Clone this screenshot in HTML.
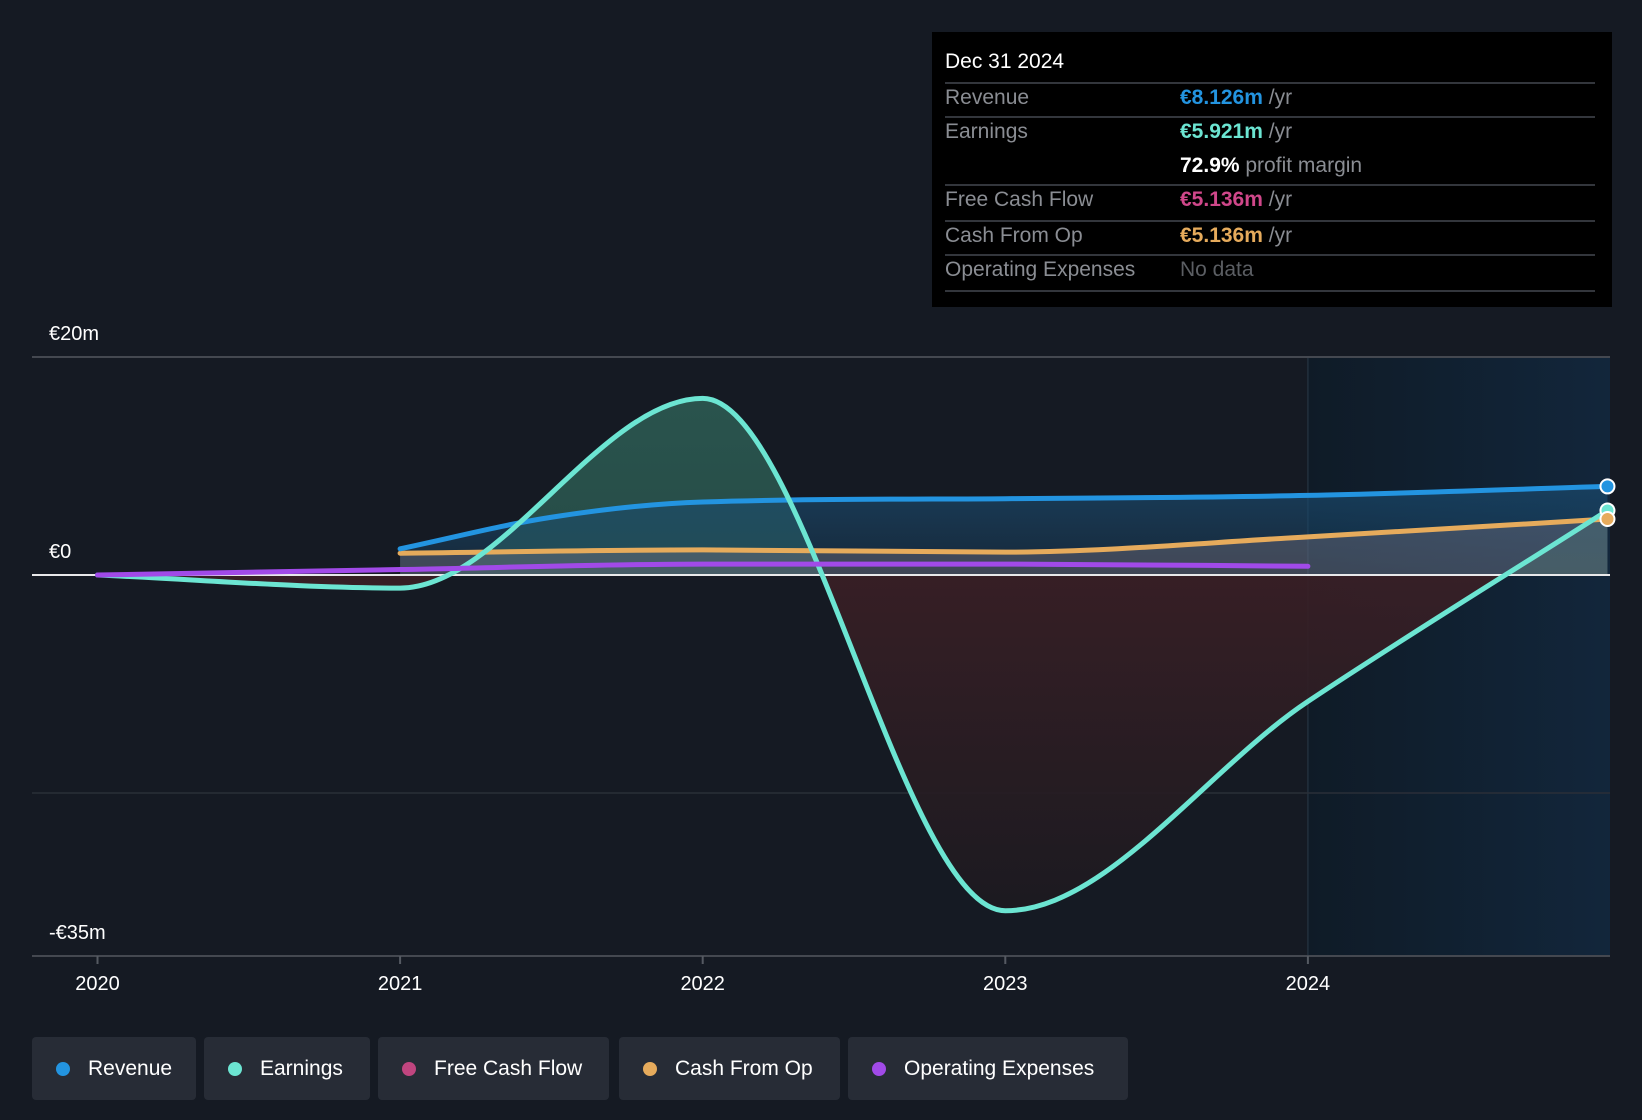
<!DOCTYPE html>
<html><head><meta charset="utf-8">
<style>
body{margin:0;width:1642px;height:1120px;background:#151a23;font-family:"Liberation Sans",sans-serif;overflow:hidden;position:relative}
#tip{position:absolute;left:932px;top:32px;width:680px;height:275px;background:#000;color:#8a8d93;font-size:21px}
#tip .t{position:absolute;left:13px;color:#fff}
#tip .v{position:absolute;left:248px}
#tip .v span{font-weight:bold}
#tip .s{position:absolute;left:13px;width:650px;height:2px;background:#33363c}
.leg{position:absolute;top:1037px;height:63px;background:#272c36;border-radius:4px;color:#fff;font-size:21px;line-height:63px;box-sizing:border-box;padding-left:56px}
.leg i{position:absolute;left:24px;top:25px;width:14px;height:14px;border-radius:50%}
</style></head><body>
<svg id="chart" width="1642" height="1120" style="position:absolute;left:0;top:0">
<defs>
<linearGradient id="fc" x1="0" x2="1" y1="0" y2="0"><stop offset="0" stop-color="#0f1b27"/><stop offset="1" stop-color="#12263b"/></linearGradient>
<linearGradient id="pg" x1="0" x2="0" y1="0" y2="1"><stop offset="0" stop-color="#2c5a52"/><stop offset="1" stop-color="#20403d"/></linearGradient>
<linearGradient id="ng" x1="0" x2="0" y1="0" y2="1"><stop offset="0" stop-color="#4a2228"/><stop offset="1" stop-color="#1c1a20"/></linearGradient>
<linearGradient id="rg" x1="0" x2="0" y1="0" y2="1"><stop offset="0" stop-color="#1a4a6e" stop-opacity="0.7"/><stop offset="1" stop-color="#1a4a6e" stop-opacity="0.3"/></linearGradient>
</defs>
<g id="g"></g>
</svg>
<div id="tip">
<div class="t" style="top:18px;color:#fff">Dec 31 2024</div>
<div class="s" style="top:50px"></div>
<div class="t" style="top:54px;color:#8a8d93">Revenue</div><div class="v" style="top:54px"><span style="color:#2394e0">€8.126m</span> /yr</div>
<div class="s" style="top:84px"></div>
<div class="t" style="top:88px;color:#8a8d93">Earnings</div><div class="v" style="top:88px"><span style="color:#6ce5d2">€5.921m</span> /yr</div>
<div class="v" style="top:122px"><span style="color:#fff">72.9%</span> profit margin</div>
<div class="s" style="top:152px"></div>
<div class="t" style="top:156px;color:#8a8d93">Free Cash Flow</div><div class="v" style="top:156px"><span style="color:#d0478a">€5.136m</span> /yr</div>
<div class="s" style="top:188px"></div>
<div class="t" style="top:192px;color:#8a8d93">Cash From Op</div><div class="v" style="top:192px"><span style="color:#e6ab5c">€5.136m</span> /yr</div>
<div class="s" style="top:222px"></div>
<div class="t" style="top:226px;color:#8a8d93">Operating Expenses</div><div class="v" style="top:226px;color:#5b5e63">No data</div>
<div class="s" style="top:258px"></div>
</div>
<div class="leg" style="left:32px;width:164px"><i style="background:#2394e0"></i>Revenue</div>
<div class="leg" style="left:204px;width:166px"><i style="background:#6ce5d2"></i>Earnings</div>
<div class="leg" style="left:378px;width:231px"><i style="background:#c0457f"></i>Free Cash Flow</div>
<div class="leg" style="left:619px;width:221px"><i style="background:#e6ab5c"></i>Cash From Op</div>
<div class="leg" style="left:848px;width:280px"><i style="background:#a14ae8"></i>Operating Expenses</div>
<script>
const revX=[2021,2021.5,2022,2023,2024,2024.99];
const revY=[2.4,5.3,6.7,7.0,7.3,8.126];
const earnX=[2020,2021,2022,2023,2024,2024.99];
const earnY=[0,-1.2,16.2,-30.8,-11.6,5.921];
const cfoX=[2021,2022,2023,2024,2024.99];
const cfoY=[2.0,2.3,2.1,3.5,5.136];
const opxX=[2020,2021,2022,2023,2024];
const opxY=[0,0.5,1.0,1.0,0.8];
const yTicks=[20,0,-35];
const yTickLabels=["€20m","€0","-€35m"];
const years=[2020,2021,2022,2023,2024];

const X=v=>97.5+(v-2020)*302.6;
const Y=v=>575-v*10.9;
const NS="http://www.w3.org/2000/svg";
const g=document.getElementById('g');
function mk(t,a,name){const e=document.createElementNS(NS,t);for(const k in a)e.setAttribute(k,a[k]);


g.appendChild(e);return e;}
function mono(xs,ys){const n=xs.length,px=xs.map(X),py=ys.map(Y);const d=[],m=[];
for(let i=0;i<n-1;i++)d.push((py[i+1]-py[i])/(px[i+1]-px[i]));
for(let i=0;i<n;i++){if(i==0)m.push(d[0]);else if(i==n-1)m.push(d[n-2]);else m.push(d[i-1]*d[i]<=0?0:(d[i-1]+d[i])/2);}
for(let i=0;i<n-1;i++){if(d[i]==0){m[i]=0;m[i+1]=0;continue;}const a=m[i]/d[i],b=m[i+1]/d[i],s=a*a+b*b;if(s>9){const t=3/Math.sqrt(s);m[i]=t*a*d[i];m[i+1]=t*b*d[i];}}
let p=`M${px[0]},${py[0]}`;
for(let i=0;i<n-1;i++){const h=(px[i+1]-px[i])/3;p+=`C${px[i]+h},${py[i]+m[i]*h} ${px[i+1]-h},${py[i+1]-m[i+1]*h} ${px[i+1]},${py[i+1]}`;}
return p;}
const z=Y(0);
mk('rect',{x:X(2024),y:357,width:1610-X(2024),height:599,fill:'url(#fc)'},'forecast-region');
mk('line',{x1:X(2024),x2:X(2024),y1:357,y2:956,stroke:'#22303d','stroke-width':1.5},'forecast-divider');
[-20].forEach(v=>mk('line',{x1:32,x2:1610,y1:Y(v),y2:Y(v),stroke:'#2a2f38','stroke-width':1.5},'gridline'));
mk('line',{x1:32,x2:1610,y1:Y(20),y2:Y(20),stroke:'#444850','stroke-width':2},'gridline-top');
mk('line',{x1:32,x2:1610,y1:956,y2:956,stroke:'#444850','stroke-width':2},'x-axis-line');
const ep=mono(earnX,earnY);
const cp=mk('clipPath',{id:'pos'},'clip-pos');const r1=document.createElementNS(NS,'rect');r1.setAttribute('x',0);r1.setAttribute('y',0);r1.setAttribute('width',1642);r1.setAttribute('height',z);cp.appendChild(r1);
const cn=mk('clipPath',{id:'neg'},'clip-neg');const r2=document.createElementNS(NS,'rect');r2.setAttribute('x',0);r2.setAttribute('y',z);r2.setAttribute('width',1642);r2.setAttribute('height',500);cn.appendChild(r2);
const efill=ep+`L${X(earnX[earnX.length-1])},${z}L${X(earnX[0])},${z}Z`;
mk('path',{d:efill,fill:'url(#pg)','clip-path':'url(#pos)',opacity:0.9},'earnings-area-positive');
mk('path',{d:efill,fill:'url(#ng)','clip-path':'url(#neg)',opacity:0.9},'earnings-area-negative');
mk('path',{d:mono(revX,revY)+`L${X(revX[revX.length-1])},${z}L${X(revX[0])},${z}Z`,fill:'url(#rg)'},'revenue-area');
mk('path',{d:mono(cfoX,cfoY)+`L${X(cfoX[cfoX.length-1])},${z}L${X(cfoX[0])},${z}Z`,fill:'#8a7f8a',opacity:0.35},'cash-from-op-area');
mk('line',{x1:32,x2:1610,y1:z,y2:z,stroke:'#e8e8ea','stroke-width':2},'zero-line');
mk('path',{d:mono(cfoX,cfoY),fill:'none',stroke:'#e6ab5c','stroke-width':5,'stroke-linecap':'round'},'cash-from-op-line');
mk('path',{d:mono(revX,revY),fill:'none',stroke:'#2394e0','stroke-width':5,'stroke-linecap':'round'},'revenue-line');
mk('path',{d:ep,fill:'none',stroke:'#6ce5d2','stroke-width':5,'stroke-linecap':'round'},'earnings-line');
mk('path',{d:mono(opxX,opxY),fill:'none',stroke:'#a14ae8','stroke-width':5,'stroke-linecap':'round'},'operating-expenses-line');
[[revX,revY,'#2394e0','revenue'],[earnX,earnY,'#6ce5d2','earnings'],[cfoX,cfoY,'#e6ab5c','cash-from-op']].forEach(s=>{
mk('circle',{cx:X(s[0][s[0].length-1]),cy:Y(s[1][s[1].length-1]),r:7,fill:s[2],stroke:'#fff','stroke-width':2},s[3]+'-end-dot');});
yTicks.forEach((v,i)=>{const t=mk('text',{x:49,y:[340,558,939][i],fill:'#fff','font-size':20},'y-tick-label');t.textContent=yTickLabels[i];});
years.forEach(yv=>{mk('line',{x1:X(yv),x2:X(yv),y1:956,y2:964,stroke:'#555a62','stroke-width':2},'x-tick');
const t=mk('text',{x:X(yv),y:990,fill:'#fff','font-size':20,'text-anchor':'middle'},'x-tick-label');t.textContent=yv;});
</script>
</body></html>
